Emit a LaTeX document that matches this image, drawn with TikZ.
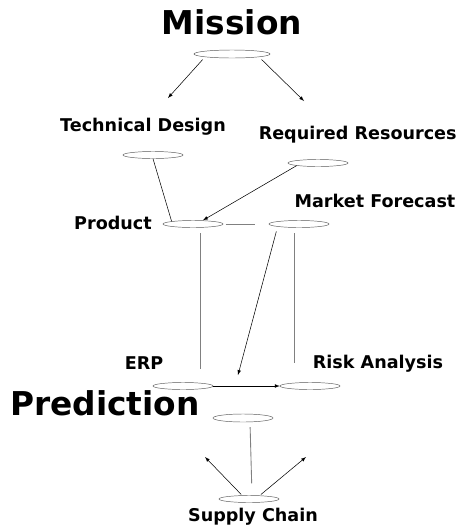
\documentclass[tikz,border=0pt]{standalone}
\usepackage{fontspec}
\setmainfont{DejaVu Sans}
\usepackage{tikz}
\usetikzlibrary{shapes.geometric}

\tikzset{
  blob/.style={draw=black!65, ellipse, inner sep=0pt, minimum width=1.8cm, minimum height=0.21cm},
  lbl/.style={font=\fontsize{15}{17}\selectfont\bfseries, inner sep=0pt},
  title/.style={font=\fontsize{28}{32}\selectfont\bfseries, inner sep=0pt},
  link/.style={draw=black!50, line width=0.75pt},
  flow/.style={-latex, line width=0.45pt}
}

\begin{document}
\begin{tikzpicture}
    \useasboundingbox (0,0) rectangle (13.86,-15.84);

    \node[title] at (6.96,-0.66) (tmission) {Mission};
    \node[blob, minimum width=2.28cm, minimum height=0.24cm] at (6.96,-1.62) (mis) {};
    \coordinate (tdin) at (5.04,-2.94);
    \coordinate (rrin) at (9.12,-3.03);
    \draw[flow, shorten <=3pt] (mis.south west) -- (tdin);
    \draw[flow, shorten <=3pt] (mis.south east) -- (rrin);

    \node[lbl] at (4.29,-3.81) (ttd) {Technical Design};
    \node[blob] at (4.59,-4.65) (td) {};
    \node[lbl] at (10.73,-4.05) (trr) {Required Resources};
    \node[blob] at (9.54,-4.89) (rr) {};

    \node[lbl] at (3.39,-6.69) (tprod) {Product};
    \node[blob] at (5.79,-6.72) (prod) {};
    \node[lbl] at (11.25,-6.03) (tmf) {Market Forecast};
    \node[blob] at (8.97,-6.72) (mf) {};

    \draw[line width=0.45pt] (td.south) -- (prod.north west);
    \draw[flow] (rr.south west) -- ([xshift=0.3cm]prod.north);
    \draw[link, shorten <=2pt, shorten >=0.42cm] (prod.east) -- (mf.west);

    \node[lbl] at (4.32,-10.89) (terp) {ERP};
    \node[blob] at (5.49,-11.58) (erp) {};
    \node[lbl] at (11.34,-10.92) (tra) {Risk Analysis};
    \node[blob] at (9.30,-11.58) (ra) {};

    \draw[link, shorten <=0.165cm, shorten >=0.39cm] ([xshift=0.21cm]prod.south) -- ([xshift=0.51cm]erp.north);
    \coordinate (mfout) at (7.14,-11.25);
    \draw[flow, shorten <=0.15cm] (mf.south west) -- (mfout);
    \draw[link, shorten <=0.165cm, shorten >=0.57cm] ([xshift=-0.15cm]mf.south) -- ([xshift=-0.48cm]ra.north);
    \draw[flow] (erp.east) -- (ra.west);

    \node[title] at (3.15,-12.09) (tpred) {Prediction};
    \node[blob, minimum height=0.24cm] at (7.29,-12.54) (pred) {};
    \node[blob] at (7.47,-14.97) (sc) {};
    \node[lbl] at (7.59,-15.51) (tsc) {Supply Chain};

    \draw[link, shorten <=0.15cm, shorten >=0.36cm] ([xshift=0.21cm]pred.south) -- ([xshift=0.09cm]sc.north);
    \coordinate (scl) at (6.15,-13.71);
    \coordinate (scr) at (9.18,-13.71);
    \draw[flow, shorten <=1pt] ([xshift=-0.21cm]sc.north) -- (scl);
    \draw[flow, shorten <=1pt] ([xshift=0.33cm]sc.north) -- (scr);
\end{tikzpicture}
\end{document}
